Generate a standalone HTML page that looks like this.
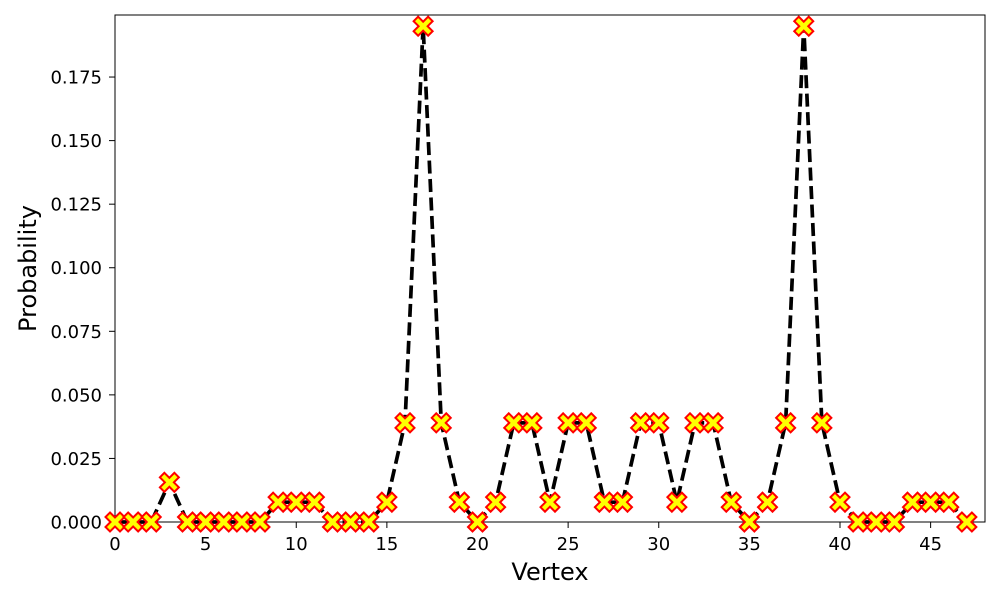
<!DOCTYPE html>
<html><head><meta charset="utf-8"><style>
body{margin:0;background:#fff}
svg text{font-family:"DejaVu Sans","Liberation Sans",sans-serif}
</style></head><body>
<svg id="c" width="1000" height="600"></svg>
<script>
const vertices=[...Array(48).keys()];
const probs=[0,0,0,0.0156,0,0,0,0,0,0.0078,0.0078,0.0078,0,0,0,0.0078,0.039,0.195,0.039,0.0078,0,0.0078,0.039,0.039,0.0078,0.039,0.039,0.0078,0.0078,0.039,0.039,0.0078,0.039,0.039,0.0078,0,0.0078,0.039,0.195,0.039,0.0078,0,0,0,0.0078,0.0078,0.0078,0];
const xTicks=[0,5,10,15,20,25,30,35,40,45];
const yTicks=[0,0.025,0.05,0.075,0.1,0.125,0.15,0.175];
const L=115,R=985,T=15,B=522,XMAX=48,YMAX=0.1994;
const sx=v=>L+v/XMAX*(R-L), sy=v=>B-v/YMAX*(B-T);
const svg=document.getElementById('c');const NS='http://www.w3.org/2000/svg';
function mk(t,a,p){const e=document.createElementNS(NS,t);for(const k in a)e.setAttribute(k,a[k]);(p||svg).appendChild(e);return e;}
let e=mk('rect',{x:L,y:T,width:R-L,height:B-T,fill:'none',stroke:'#000','stroke-width':1});


xTicks.forEach(v=>{const x=sx(v);mk('line',{x1:x,x2:x,y1:B,y2:B+6,stroke:'#000'});
 const t=mk('text',{x:x,y:B+28,'text-anchor':'middle','font-size':18});t.textContent=v;
 
 });
yTicks.forEach(v=>{const y=sy(v);mk('line',{x1:L-6,x2:L,y1:y,y2:y,stroke:'#000'});
 const t=mk('text',{x:L-13,y:y+6.5,'text-anchor':'end','font-size':18});t.textContent=v.toFixed(3);
 
 });
let xt=mk('text',{x:(L+R)/2,y:580,'text-anchor':'middle','font-size':24});xt.textContent='Vertex';


let yt=mk('text',{x:36,y:(T+B)/2,'text-anchor':'middle','font-size':24,transform:`rotate(-90 36 ${(T+B)/2})`});yt.textContent='Probability';


let ln=mk('polyline',{points:vertices.map((v,i)=>sx(v)+','+sy(probs[i])).join(' '),fill:'none',stroke:'#000','stroke-width':3.7,'stroke-dasharray':'13,5.5'});


const s=9.5,w=4.5;
const xp=`M${-s+w},${-s} L0,${-w} L${s-w},${-s} L${s},${-s+w} L${w},0 L${s},${s-w} L${s-w},${s} L0,${w} L${-s+w},${s} L${-s},${s-w} L${-w},0 L${-s},${-s+w} Z`;
vertices.forEach((v,i)=>{const m=mk('path',{d:xp,transform:`translate(${sx(v)},${sy(probs[i])})`,fill:'#ffff00',stroke:'#ff0000','stroke-width':2,'stroke-linejoin':'miter'});
 
 });
</script>
</body></html>
